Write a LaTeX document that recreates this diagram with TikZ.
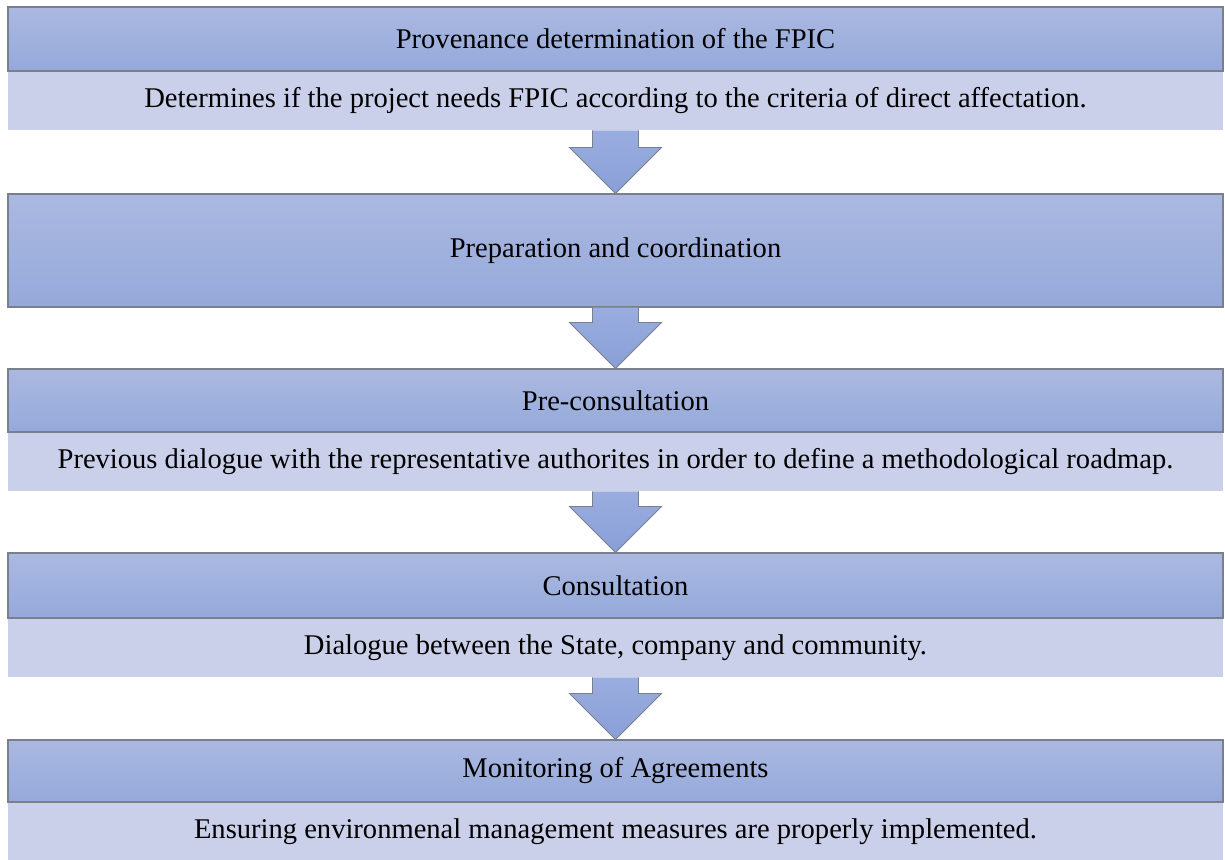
\documentclass[tikz,border=0pt]{standalone}
\usepackage{fontspec}
\setmainfont{Liberation Serif}
\usetikzlibrary{calc}
\definecolor{hdrtop}{HTML}{ABB9E1}
\definecolor{hdrbot}{HTML}{95A9DA}
\definecolor{subfill}{HTML}{CACFEA}
\definecolor{arrtop}{HTML}{9AADDF}
\definecolor{arrbot}{HTML}{889FD7}
\definecolor{edge}{HTML}{7A7F8C}
\tikzset{
  hdr/.style={draw=edge, line width=0.6pt, top color=hdrtop, bottom color=hdrbot,
    minimum width=24.3cm, inner sep=0pt, font=\fontsize{16.25}{19}\selectfont, text=black},
  subband/.style={fill=subfill, minimum width=24.3cm, minimum height=1.16cm,
    inner sep=0pt, font=\fontsize{16.25}{19}\selectfont, text=black},
  bigarr/.style={draw=edge, line width=0.5pt, top color=arrtop, bottom color=arrbot}
}
\newcommand{\flowarrow}[2]{%
  \path[bigarr] let \p1=(#1.south), \p2=(#2.north) in
    (\x1-0.46cm,\y1) -- (\x1-0.46cm,\y2+0.92cm) -- (\x1-0.92cm,\y2+0.92cm)
    -- (\x1,\y2) -- (\x1+0.92cm,\y2+0.92cm) -- (\x1+0.46cm,\y2+0.92cm) -- (\x1+0.46cm,\y1);
}
\begin{document}
\begin{tikzpicture}
\useasboundingbox (0,0) rectangle (24.5,-17.2);
\node[hdr, minimum height=1.28cm] (h1) at (12.31,-0.78) {Provenance determination of the FPIC};
\node[subband] (s1) at (12.31,-2.02) {Determines if the project needs FPIC according to the criteria of direct affectation.};
\node[hdr, minimum height=2.26cm] (h2) at (12.31,-5.01) {Preparation and coordination};
\node[hdr, minimum height=1.26cm] (h3) at (12.31,-8.01) {Pre-consultation};
\node[subband] (s3) at (12.31,-9.24) {Previous dialogue with the representative authorites in order to define a methodological roadmap.};
\node[hdr, minimum height=1.30cm] (h4) at (12.31,-11.71) {Consultation};
\node[subband] (s4) at (12.31,-12.96) {Dialogue between the State, company and community.};
\node[hdr, minimum height=1.24cm] (h5) at (12.31,-15.42) {Monitoring of Agreements};
\node[subband] (s5) at (12.31,-16.64) {Ensuring environmenal management measures are properly implemented.};
\flowarrow{s1}{h2}
\flowarrow{h2}{h3}
\flowarrow{s3}{h4}
\flowarrow{s4}{h5}
\end{tikzpicture}
\end{document}
